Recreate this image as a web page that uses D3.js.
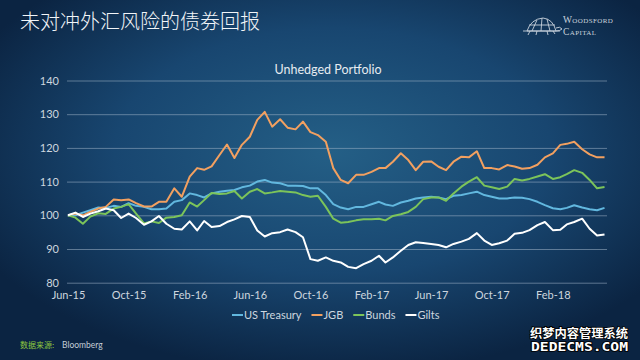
<!DOCTYPE html>
<html>
<head>
<meta charset="utf-8">
<script src="https://cdn.jsdelivr.net/npm/d3@7"></script>
<style>
  html, body { margin: 0; padding: 0; background: #0f2d4b; }
  svg { display: block; }
</style>
</head>
<body>
<svg id="chart" width="640" height="360"></svg>
<script>
// ---------------- DATA ----------------
const title = "未对冲外汇风险的债券回报";
const chartTitle = "Unhedged Portfolio";
const seriesNames = ["US Treasury", "JGB", "Bunds", "Gilts"];
const yTicks = [80, 90, 100, 110, 120, 130, 140];
const xTickLabels = ["Jun-15", "Oct-15", "Feb-16", "Jun-16", "Oct-16", "Feb-17", "Jun-17", "Oct-17", "Feb-18"];
// half-monthly observations, Jun 2015 – May 2018
const startMonth = [2015, 5];
const pointCount = 72;

const usTreasury = [100,100,100.8,101.5,102.3,102.2,102.8,102.5,103.6,102.8,102.5,101.8,101.8,102,104,104.5,
  106.5,106,105.3,106.5,107,107.3,107.5,108.3,108.8,110,110.5,109.7,109.5,108.8,108.8,108.7,108,108,106,103.3,
  102.3,101.8,102.5,102.5,103.3,104,103.2,102.8,103.8,104.3,105,105.3,105.5,105.3,104.8,105.8,106,106.5,107,106,
  105.5,105,105,105.3,105.2,104.8,104,103,102.1,101.8,102.2,103,102.3,101.8,101.5,102.2];
const jgb = [100,100.5,100,101,102,102.5,104.7,104.5,104.7,103.6,102.6,102.6,104,104,108,105.5,
  111.5,114,113.5,114.5,117.9,121,117,120.9,123.3,128.3,130.7,126.3,128.5,126,125.5,127.8,124.7,123.8,121.8,114,
  110.5,109.5,112,112,112.9,114,114,115.9,118.4,116.4,113.4,115.9,116,114.4,113.4,115.9,117.4,117.2,119,114,
  114,113.6,114.9,114.5,113.8,114,115,117.2,118.4,120.9,121.2,121.8,119.6,118.1,117.2,117.2];
const bunds = [100,99.3,97.5,99.6,100.6,100.4,102,102.5,103.3,100.5,97.6,98.2,97.7,99.3,99.5,100,
  103.8,102.6,104.5,106.6,106.3,106.5,107.2,105,107,107.8,106.5,106.8,107.2,107,106.8,106,105.5,105.8,102.5,99,
  97.8,98,98.5,98.8,98.8,99,98.5,99.8,100.3,101,102.5,104.8,105.3,105.3,104.3,106.5,108.5,110,111.3,108.8,
  108.3,107.8,108.5,110.8,110.3,110.8,111.5,112.2,110.8,111.3,112.2,113.4,112.6,110.5,108,108.4];
const gilts = [100,100.8,99.5,100.5,101.2,102,101.5,99.2,100.5,99.2,97.2,98.2,99.8,97.5,96,95.8,
  98.2,95.5,98.3,96.5,96.8,98,98.8,99.8,99.5,95.5,93.7,94.7,95,95.8,95,93.5,87,86.5,87.5,86.5,
  86,84.7,84.3,85.5,86.5,88,86,87.5,89.5,91.2,92,91.8,91.5,91.2,90.5,91.5,92.2,93,94.7,92.5,
  91.2,91.7,92.5,94.5,94.8,95.6,97.1,98,95.6,95.7,97.3,98,99,96,94,94.3];

const colors = ["#62b8df", "#f2a060", "#7cc45a", "#ffffff"];

// ---------------- SETUP ----------------
const svg = d3.select("#chart");
const W = 640, H = 360;
const plot = { left: 67, right: 607, top: 80.5, bottom: 282.7 };

const defs = svg.append("defs");
const grad = defs.append("radialGradient").attr("id", "bg")
  .attr("cx", "52%").attr("cy", "42%").attr("r", "62%");
grad.append("stop").attr("offset", "0%").attr("stop-color", "#245f86");
grad.append("stop").attr("offset", "55%").attr("stop-color", "#184670");
grad.append("stop").attr("offset", "100%").attr("stop-color", "#0b2442");
svg.append("rect").attr("width", W).attr("height", H).attr("fill", "url(#bg)");

// Title
svg.append("text").attr("x", 20).attr("y", 29)
  .attr("font-family", "'Noto Sans CJK SC', sans-serif").attr("font-weight", 300)
  .attr("font-size", 20).attr("fill", "#f2f5f8").text(title);

// Logo
const logo = svg.append("g").attr("fill", "none").attr("stroke", "#c9d2dc").attr("stroke-width", 0.9);
logo.append("path").attr("d", "M527,31 Q531,19 543,18 Q553,19 556,31 Z");
logo.append("path").attr("d", "M532,31 L537,20 M541,31 L542,18 M550,31 L547,19 M529,25 L555,25");
logo.append("path").attr("d", "M556,28 Q560,26 562,29 Q560,31 556,31");
logo.append("path").attr("d", "M530,31 L528,35 M537,31 L536,35 M547,31 L548,35 M553,31 L555,34");
logo.append("path").attr("d", "M523,31 L560,31");
svg.append("text").attr("x", 563).attr("y", 23)
  .attr("font-family", "'Liberation Serif', serif").attr("font-size", 9.5)
  .attr("letter-spacing", 0.4).style("font-variant", "small-caps")
  .attr("fill", "#c9d2dc").text("Woodsford");
svg.append("text").attr("x", 563).attr("y", 35)
  .attr("font-family", "'Liberation Serif', serif").attr("font-size", 9.5)
  .attr("letter-spacing", 0.4).style("font-variant", "small-caps")
  .attr("fill", "#c9d2dc").text("Capital");

// Chart title
svg.append("text").attr("x", 328).attr("y", 74).attr("text-anchor", "middle")
  .attr("font-family", "Lato, sans-serif").attr("font-size", 12.5)
  .attr("fill", "#e6ebf0").text(chartTitle);

// ---------------- SCALES ----------------
const dates = d3.range(pointCount).map(i =>
  new Date(startMonth[0], startMonth[1] + Math.floor(i / 2), i % 2 ? 16 : 1));
const x = d3.scaleTime()
  .domain([new Date(2015, 5, 1), new Date(2018, 4, 21)])
  .range([68, plot.right]);
const y = d3.scaleLinear().domain([80, 140]).range([plot.bottom, plot.top]);

const tickParse = d3.timeParse("%b-%y");
const xTickDates = xTickLabels.map(s => tickParse(s));

// Y axis with gridlines
const yAxis = d3.axisLeft(y).tickValues(yTicks)
  .tickSize(-(plot.right - plot.left)).tickPadding(8);
const gy = svg.append("g").attr("transform", `translate(${plot.left},0)`).call(yAxis);
gy.select(".domain").remove();
gy.selectAll(".tick line").attr("stroke", "#9fb3c6").attr("stroke-opacity", 0.55).attr("stroke-width", 1);
gy.selectAll(".tick text").attr("fill", "#cdd6df").attr("font-size", 11)
  .attr("font-family", "Lato, sans-serif");

// X axis
const xAxis = d3.axisBottom(x).tickValues(xTickDates)
  .tickFormat(d3.timeFormat("%b-%y")).tickSize(0).tickPadding(9);
const gx = svg.append("g").attr("transform", `translate(0,${plot.bottom})`).call(xAxis);
gx.select(".domain").remove();
gx.selectAll(".tick text").attr("fill", "#cdd6df").attr("font-size", 11)
  .attr("font-family", "Lato, sans-serif");

// ---------------- LINES ----------------
const allSeries = [usTreasury, jgb, bunds, gilts];
const line = d3.line().x((d, i) => x(dates[i])).y(d => y(d));
allSeries.forEach((s, k) => {
  svg.append("path").datum(s)
    .attr("fill", "none").attr("stroke", colors[k]).attr("stroke-width", 2)
    .attr("stroke-linejoin", "round").attr("d", line);
});

// ---------------- LEGEND ----------------
const leg = svg.append("g").attr("font-family", "Lato, sans-serif").attr("font-size", 11);
let lx = 232;
seriesNames.forEach((name, k) => {
  leg.append("line").attr("x1", lx).attr("x2", lx + 11).attr("y1", 315).attr("y2", 315)
    .attr("stroke", colors[k]).attr("stroke-width", 2);
  const t = leg.append("text").attr("x", lx + 12).attr("y", 319).attr("fill", "#cdd6df").text(name);
  lx += 12 + t.node().getComputedTextLength() + 10;
});

// ---------------- SOURCE ----------------
svg.append("text").attr("x", 20).attr("y", 348)
  .attr("font-family", "'Noto Sans CJK SC', sans-serif").attr("font-size", 8)
  .attr("fill", "#8cc63f").text("数据来源:");
svg.append("text").attr("x", 62).attr("y", 348)
  .attr("font-family", "Lato, sans-serif").attr("font-size", 8.5)
  .attr("fill", "#c3ccd6").text("Bloomberg");

// ---------------- WATERMARK ----------------
svg.append("text").attr("x", 530).attr("y", 338)
  .attr("font-family", "'Noto Sans CJK SC', sans-serif").attr("font-weight", 700)
  .attr("font-size", 12).attr("textLength", 98).attr("lengthAdjust", "spacingAndGlyphs")
  .attr("fill", "#ffffff").attr("stroke", "#000000").attr("stroke-width", 1.6)
  .attr("paint-order", "stroke").text("织梦内容管理系统");
svg.append("text").attr("x", 531).attr("y", 351)
  .attr("font-family", "'DejaVu Sans Mono', monospace").attr("font-weight", 700)
  .attr("font-size", 11.5).attr("textLength", 97).attr("lengthAdjust", "spacingAndGlyphs")
  .attr("fill", "#ffffff").attr("stroke", "#000000").attr("stroke-width", 1.6)
  .attr("paint-order", "stroke").text("DEDECMS.COM");
</script>
</body>
</html>
